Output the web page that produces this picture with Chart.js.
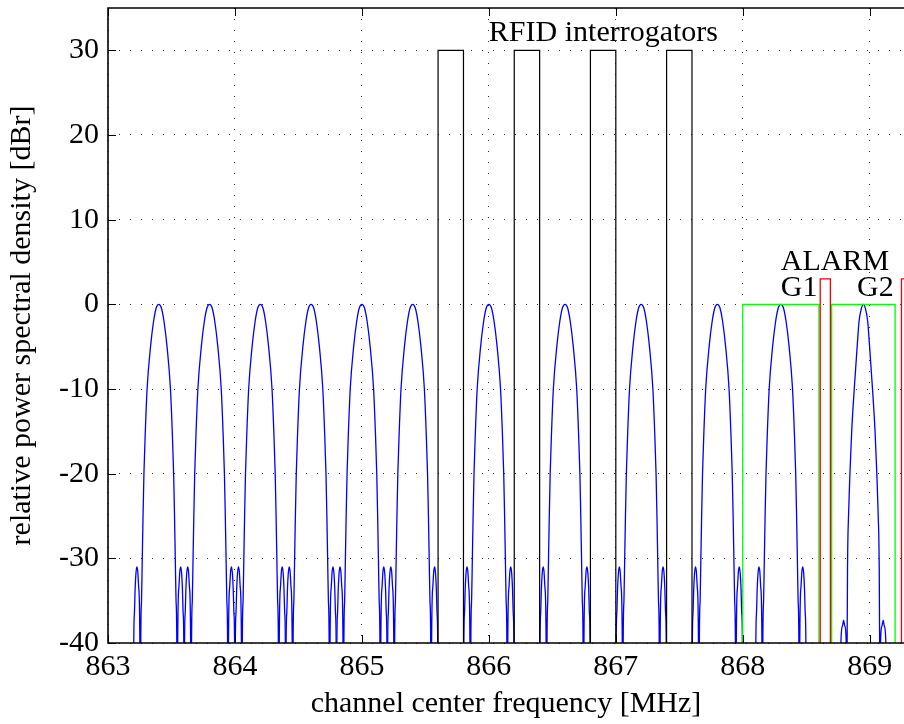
<!DOCTYPE html>
<html>
<head>
<meta charset="utf-8">
<script src="https://cdn.jsdelivr.net/npm/chart.js@4.4.1/dist/chart.umd.min.js"></script>
<style>
  html, body { margin: 0; padding: 0; background: #fff; }
  #wrap { width: 904px; height: 724px; }
</style>
</head>
<body>
<div id="wrap"><canvas id="psdChart"></canvas></div>
<script>
// channel centres of the transmitter spectra [MHz]
const channelCenters = [863.4, 863.8, 864.2, 864.6, 865.0, 865.4, 866.0, 866.6, 867.2, 867.8, 868.3];
const narrowCenters = [868.95];

// one side of a lobe: offset from centre [MHz] and level [dBr]
const lobeOffsets = [0, 0.020, 0.041, 0.065, 0.092, 0.106, 0.117, 0.124, 0.130, 0.136, 0.142, 0.146, 0.149, 0.158, 0.166, 0.173, 0.180, 0.186, 0.192, 0.197, 0.201];
const lobeLevels  = [0, -0.4, -2, -5, -10, -15, -20, -25, -30, -35, -40, -70, -40, -33.5, -31.5, -31, -31.8, -33.5, -36.5, -40, -70];

// the G2 channel is narrower, with lower side lobes
const narrowOffsets = [0, 0.016, 0.034, 0.049, 0.072, 0.092, 0.106, 0.117, 0.124, 0.128, 0.131, 0.135, 0.146, 0.156, 0.165, 0.177, 0.180];
const narrowLevels  = [0, -0.5, -2, -5, -10, -15, -20, -25, -30, -40, -70, -40, -38, -37.3, -38, -40, -70];

// RFID interrogator masks
const rfidStarts = [865.6, 866.2, 866.8, 867.4];
const rfidStops  = [865.8, 866.4, 867.0, 867.6];
const rfidLevel = 30;
// G1 / G2 sub-bands
const gStarts = [868.0, 868.7];
const gStops  = [868.6, 869.2];
const gLevel = 0;
// alarm sub-bands
const alarmStarts = [868.61, 869.25];
const alarmStops  = [868.69, 869.30];
const alarmLevel = 3;

const floorLevel = -40;
const xTicks = [863, 864, 865, 866, 867, 868, 869];
const yTicks = [-40, -30, -20, -10, 0, 10, 20, 30];

const notes = [
  { text: 'RFID interrogators', x: 866.0, y: 31.1 },
  { text: 'ALARM', x: 868.3, y: 4.0 },
  { text: 'G1', x: 868.3, y: 1.0 },
  { text: 'G2', x: 868.9, y: 1.0 }
];

const FONT = 'Liberation Serif';

function lobe(center, offs, levels) {
  const pts = [];
  for (let i = offs.length - 1; i > 0; i--) pts.push({ x: center - offs[i], y: levels[i] });
  for (let i = 0; i < offs.length; i++) pts.push({ x: center + offs[i], y: levels[i] });
  return pts;
}

function box(a, b, top) {
  return [{ x: a, y: floorLevel }, { x: a, y: top }, { x: b, y: top }, { x: b, y: floorLevel }];
}

const datasets = [];
channelCenters.forEach(c => datasets.push({
  data: lobe(c, lobeOffsets, lobeLevels), borderColor: '#0000ff', borderWidth: 1.3,
  cubicInterpolationMode: 'monotone', order: 2
}));
narrowCenters.forEach(c => datasets.push({
  data: lobe(c, narrowOffsets, narrowLevels), borderColor: '#0000ff', borderWidth: 1.3,
  cubicInterpolationMode: 'monotone', order: 2
}));
rfidStarts.forEach((s, i) => datasets.push({
  data: box(s, rfidStops[i], rfidLevel), borderColor: '#000000', borderWidth: 1.2, tension: 0, order: 1
}));
gStarts.forEach((s, i) => datasets.push({
  data: box(s, gStops[i], gLevel), borderColor: '#00ff00', borderWidth: 1.3, tension: 0, order: 1
}));
alarmStarts.forEach((s, i) => datasets.push({
  data: box(s, alarmStops[i], alarmLevel), borderColor: '#ff0000', borderWidth: 1.3, tension: 0, order: 0
}));

// axes frame, inner tick marks and the text labels
const framePlugin = {
  id: 'frame',
  afterDatasetsDraw(chart) {
    const { ctx, chartArea: a, scales: { x, y } } = chart;
    ctx.save();
    ctx.strokeStyle = '#000';
    ctx.lineWidth = 1;
    ctx.beginPath();
    x.ticks.forEach(t => {
      const px = Math.round(x.getPixelForValue(t.value)) + 0.5;
      ctx.moveTo(px, a.bottom); ctx.lineTo(px, a.bottom - 8);
      ctx.moveTo(px, a.top); ctx.lineTo(px, a.top + 8);
    });
    y.ticks.forEach(t => {
      const py = Math.round(y.getPixelForValue(t.value)) + 0.5;
      ctx.moveTo(a.left, py); ctx.lineTo(a.left + 8, py);
    });
    ctx.stroke();

    ctx.lineWidth = 1.6;
    ctx.beginPath();
    ctx.moveTo(a.right + 2, a.top);
    ctx.lineTo(a.left, a.top);
    ctx.lineTo(a.left, a.bottom);
    ctx.lineTo(a.right + 2, a.bottom);
    ctx.stroke();

    ctx.fillStyle = '#000';
    ctx.font = '30px "' + FONT + '"';
    ctx.textAlign = 'left';
    ctx.textBaseline = 'alphabetic';
    notes.forEach(n => ctx.fillText(n.text, x.getPixelForValue(n.x), y.getPixelForValue(n.y)));
    ctx.restore();
  }
};

new Chart(document.getElementById('psdChart'), {
  type: 'line',
  data: { datasets },
  plugins: [framePlugin],
  options: {
    responsive: true,
    maintainAspectRatio: false,
    animation: false,
    layout: { padding: { top: 8, right: 0, left: 0, bottom: 0 } },
    elements: { point: { radius: 0 } },
    plugins: { legend: { display: false }, tooltip: { enabled: false } },
    scales: {
      x: {
        type: 'linear',
        min: 863,
        max: 869.27,
        afterBuildTicks: s => { s.ticks = xTicks.map(v => ({ value: v })); },
        afterFit: s => { s.height = 81; s.paddingLeft = 0; s.paddingRight = 0; },
        grid: { color: 'rgba(0,0,0,0.8)', lineWidth: 1, drawTicks: false },
        border: { display: false, dash: [1, 10] },
        ticks: { color: '#000', padding: 6, maxRotation: 0, font: { family: FONT, size: 30 } },
        title: { display: true, text: 'channel center frequency [MHz]', color: '#000',
                 padding: { top: 0, bottom: 2 }, font: { family: FONT, size: 30 } }
      },
      y: {
        min: -40,
        max: 35,
        afterBuildTicks: s => { s.ticks = yTicks.map(v => ({ value: v })); },
        afterFit: s => { s.width = 108; s.paddingTop = 0; s.paddingBottom = 0; },
        grid: { color: 'rgba(0,0,0,0.8)', lineWidth: 1, drawTicks: false },
        border: { display: false, dash: [1, 10] },
        ticks: { color: '#000', padding: 9, font: { family: FONT, size: 30 } },
        title: { display: true, text: 'relative power spectral density [dBr]', color: '#000',
                 padding: { top: 4, bottom: 0 }, font: { family: FONT, size: 30 } }
      }
    }
  }
});
</script>
</body>
</html>
